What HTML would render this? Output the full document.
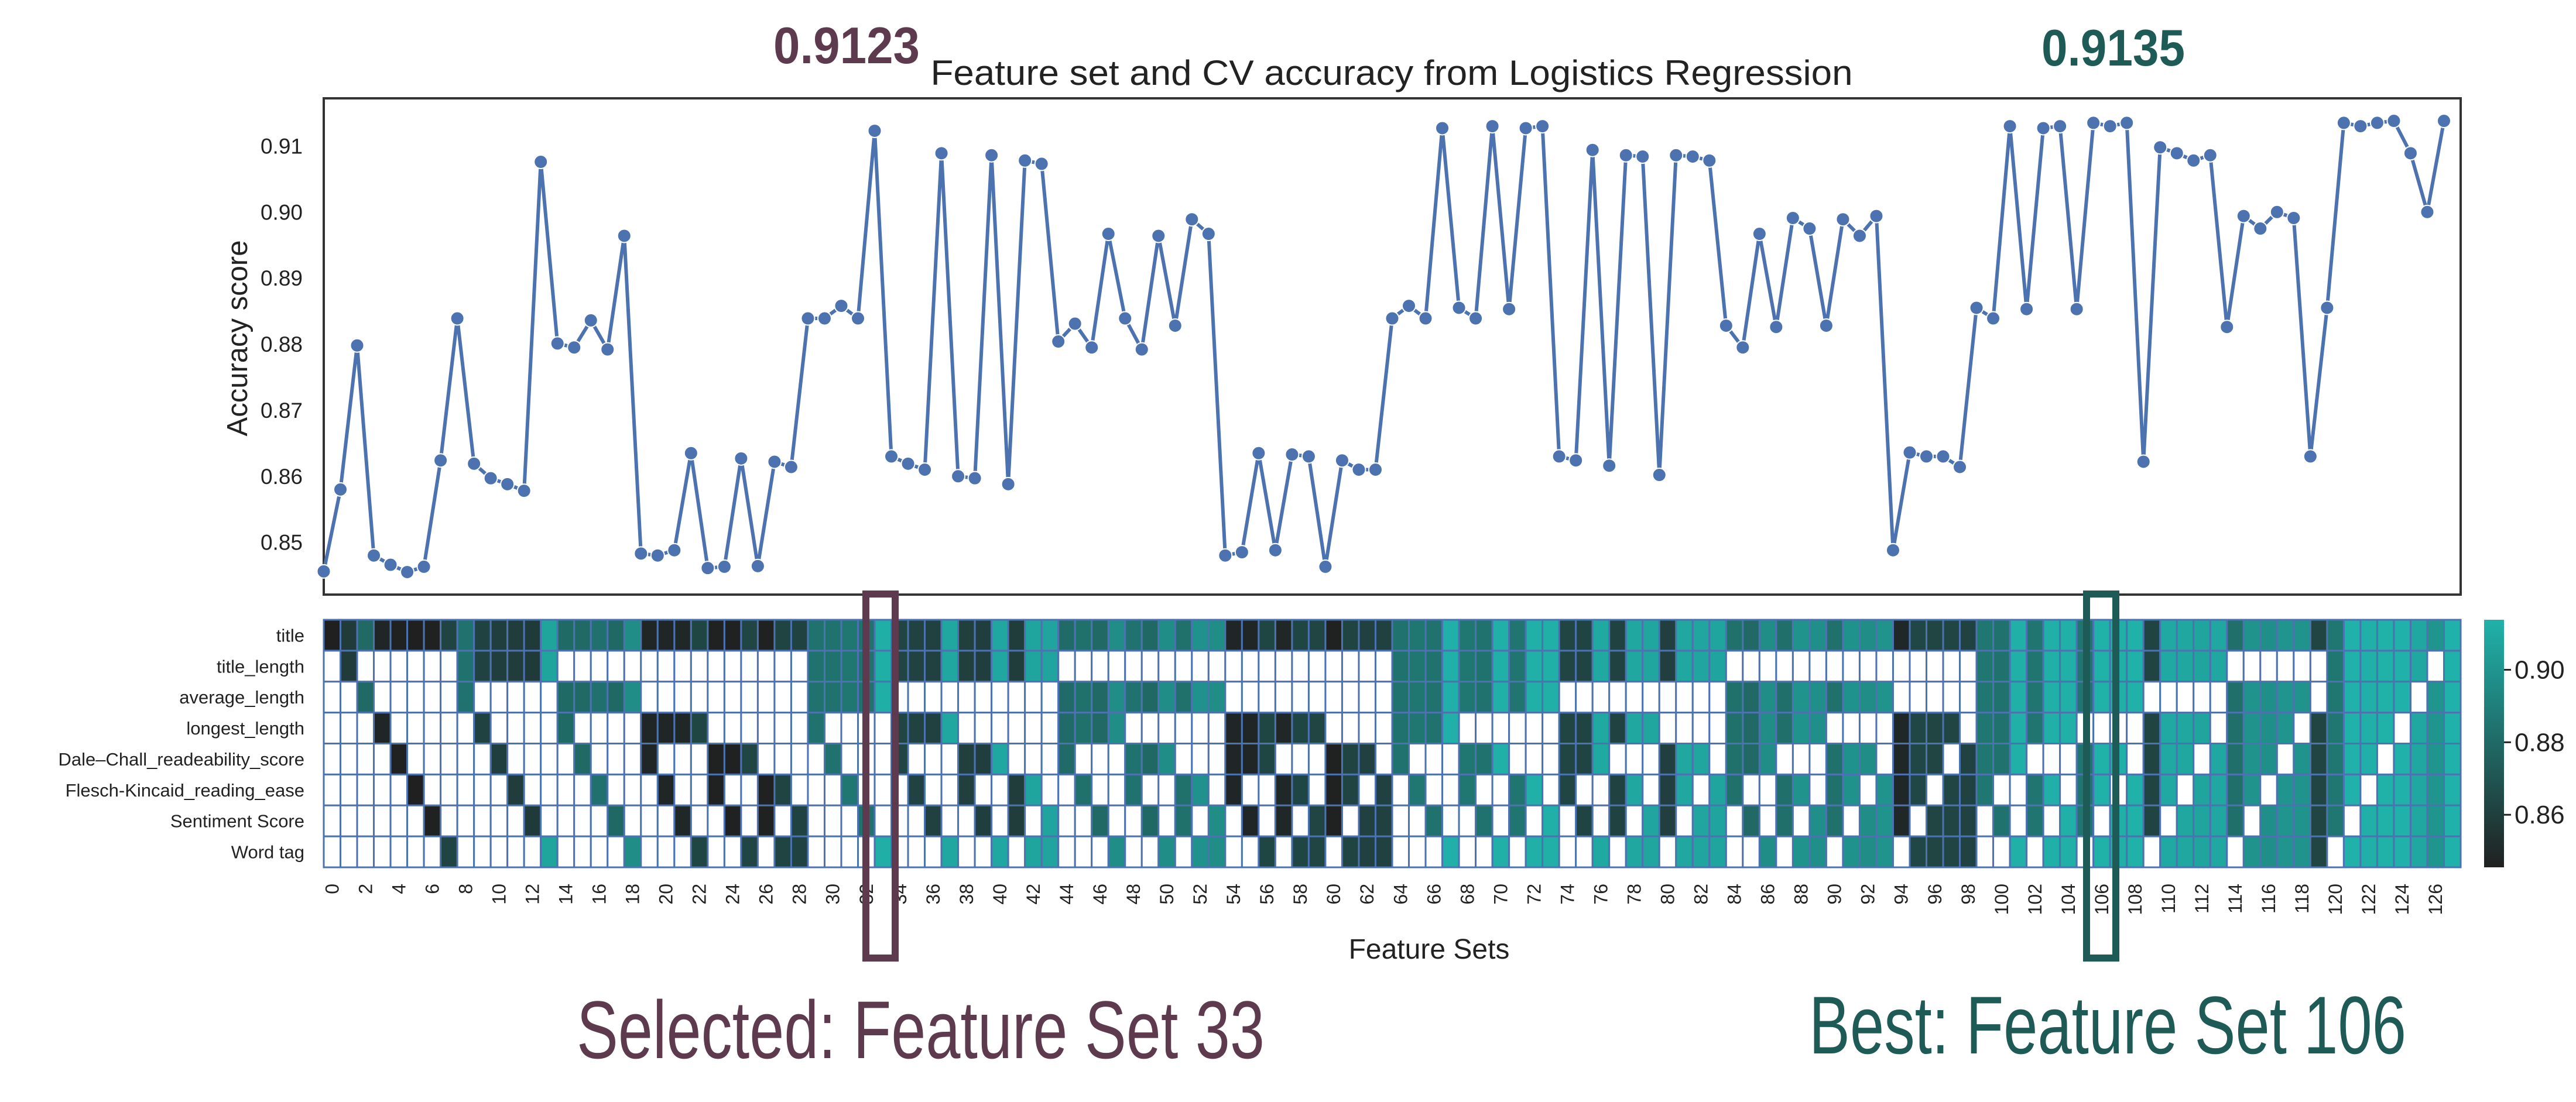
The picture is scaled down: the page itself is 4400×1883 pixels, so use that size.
<!DOCTYPE html>
<html><head><meta charset="utf-8"><style>
html,body{margin:0;padding:0;background:#fff;}
svg{display:block;font-family:"Liberation Sans",Arial,sans-serif;}
</style></head><body>
<svg id="chart" width="4400" height="1883" viewBox="0 0 4400 1883" xmlns="http://www.w3.org/2000/svg">
<defs>
<linearGradient id="cbar" x1="0" y1="1" x2="0" y2="0">
<stop offset="0" stop-color="#202020"/><stop offset="0.5" stop-color="#206965"/><stop offset="1" stop-color="#20b2aa"/>
</linearGradient>
</defs>
<rect x="0" y="0" width="4400" height="1883" fill="#fff"/>
<text x="2377" y="145" font-size="60" fill="#222" text-anchor="middle" textLength="1575" lengthAdjust="spacingAndGlyphs">Feature set and CV accuracy from Logistics Regression</text>
<text x="1321" y="108" font-size="88" font-weight="bold" fill="#5e3a4e" textLength="250" lengthAdjust="spacingAndGlyphs">0.9123</text>
<text x="3487" y="112" font-size="88" font-weight="bold" fill="#1e5b57" textLength="245" lengthAdjust="spacingAndGlyphs">0.9135</text>
<text x="0" y="0" font-size="49" fill="#222" text-anchor="middle" transform="translate(422,578) rotate(-90)">Accuracy score</text>
<text x="2441" y="1638" font-size="48" fill="#222" text-anchor="middle">Feature Sets</text>
<g id="lineG"></g>
<g id="heatG"></g>
<g id="cbarG"></g>
<rect x="1479" y="1015" width="50" height="622" fill="none" stroke="#5e3a4e" stroke-width="12"/>
<rect x="3564" y="1015" width="50" height="622" fill="none" stroke="#1e5b57" stroke-width="12"/>
<text x="985" y="1808" font-size="140" fill="#5e3a4e" textLength="1175" lengthAdjust="spacingAndGlyphs">Selected: Feature Set 33</text>
<text x="3090" y="1800" font-size="140" fill="#1e5b57" textLength="1020" lengthAdjust="spacingAndGlyphs">Best: Feature Set 106</text>
</svg>
<script>
const accuracy = [
0.8456,0.8580,0.8798,0.8480,0.8466,0.8455,0.8463,0.8624,0.8839,0.8619,
0.8597,0.8588,0.8578,0.9076,0.8801,0.8795,0.8836,0.8792,0.8964,0.8483,
0.8480,0.8488,0.8635,0.8461,0.8463,0.8627,0.8464,0.8622,0.8614,0.8839,
0.8839,0.8858,0.8839,0.9123,0.8630,0.8619,0.8610,0.9089,0.8600,0.8597,
0.9086,0.8588,0.9078,0.9073,0.8804,0.8831,0.8795,0.8967,0.8839,0.8792,
0.8964,0.8828,0.8989,0.8967,0.8480,0.8485,0.8635,0.8488,0.8633,0.8630,
0.8463,0.8624,0.8610,0.8610,0.8839,0.8858,0.8839,0.9127,0.8855,0.8839,
0.9130,0.8853,0.9127,0.9130,0.8630,0.8624,0.9094,0.8616,0.9086,0.9084,
0.8602,0.9086,0.9084,0.9078,0.8828,0.8795,0.8967,0.8826,0.8991,0.8975,
0.8828,0.8989,0.8964,0.8994,0.8488,0.8636,0.8630,0.8630,0.8614,0.8855,
0.8839,0.9130,0.8853,0.9127,0.9130,0.8853,0.9135,0.9130,0.9135,0.8622,
0.9098,0.9089,0.9078,0.9086,0.8826,0.8994,0.8975,0.9000,0.8991,0.8630,
0.8855,0.9135,0.9130,0.9135,0.9138,0.9089,0.9000,0.9138];
const featureNames = ["title","title_length","average_length","longest_length","Dale\u2013Chall_readeability_score","Flesch-Kincaid_reading_ease","Sentiment Score","Word tag"];
const yTicks = [0.85,0.86,0.87,0.88,0.89,0.90,0.91];
const yTickLabels = ["0.85","0.86","0.87","0.88","0.89","0.90","0.91"];
const cbarTicks = [0.86,0.88,0.90];
const cbarTickLabels = ["0.86","0.88","0.90"];

const NS="http://www.w3.org/2000/svg";
function mk(tag, parent, attrs){const e=document.createElementNS(NS,tag);for(const k in attrs)e.setAttribute(k,attrs[k]);parent.appendChild(e);return e;}
const X0=553, X1=4203, N=accuracy.length, CW=(X1-X0)/N;
const PT=168, PB=1016;
const dMin=Math.min(...accuracy), dMax=Math.max(...accuracy), pad=(dMax-dMin)*0.05;
const yLo=dMin-pad, yHi=dMax+pad;
function xLine(i){return X0+i*CW;}
function xCenter(i){return X0+(i+0.5)*CW;}
function yScale(v){return PT+(yHi-v)/(yHi-yLo)*(PB-PT);}
const vmin=dMin, vmax=dMax;
function lerp(a,b,t){return Math.round(a+(b-a)*t);}
function cmap(v){
  let t=(v-vmin)/(vmax-vmin); t=Math.max(0,Math.min(1,t));
  const c0=[32,32,32],c1=[32,105,101],c2=[32,178,170];
  let a,b,u; if(t<0.5){a=c0;b=c1;u=t/0.5;}else{a=c1;b=c2;u=(t-0.5)/0.5;}
  return `rgb(${lerp(a[0],b[0],u)},${lerp(a[1],b[1],u)},${lerp(a[2],b[2],u)})`;
}

const lg=document.getElementById('lineG');
const frame=mk('rect',lg,{x:X0,y:PT,width:X1-X0,height:PB-PT,fill:'none',stroke:'#333',"stroke-width":4});


yTicks.forEach((t,k)=>{
  const tx=mk('text',lg,{x:517,y:yScale(t)+13,"font-size":37,fill:'#222',"text-anchor":"end"});
  tx.textContent=yTickLabels[k];
  
  
});
const clipG=mk('g',lg,{});
let d=accuracy.map((v,i)=>(i?'L':'M')+xLine(i).toFixed(1)+','+yScale(v).toFixed(1)).join(' ');
const path=mk('path',clipG,{d:d,fill:'none',stroke:'#4c72b0',"stroke-width":6,"stroke-linejoin":"round"});


accuracy.forEach((v,i)=>{
  const c=mk('circle',clipG,{cx:xLine(i),cy:yScale(v),r:11.5,fill:'#4c72b0',stroke:'#fff',"stroke-width":2});
  
  
});

const hg=document.getElementById('heatG');
const HT=1059, HB=1482, R=featureNames.length, RH=(HB-HT)/R;
const combos=[];
(function(){const n=7;for(let k=0;k<=n;k++){const rec=(start,cur)=>{if(cur.length===k){combos.push(cur.slice());return;}for(let j=start;j<n;j++){cur.push(j);rec(j+1,cur);cur.pop();}};rec(0,[]);}})();
for(let i=0;i<N;i++){
  const set=combos[i]||[];
  for(let r=0;r<R;r++){
    const on = r===0 || set.indexOf(r-1)>=0;
    const cell=mk('rect',hg,{x:X0+i*CW,y:HT+r*RH,width:CW,height:RH,fill:on?cmap(accuracy[i]):'#ffffff',stroke:'#4c72b0',"stroke-width":3});
    
    
  }
  if(i%2===0){
    const tx=mk('text',hg,{x:0,y:0,"font-size":32,fill:'#222',"text-anchor":"end",transform:`translate(${xCenter(i)+11},1510) rotate(-90)`});
    tx.textContent=String(i);
    
    
  }
}
featureNames.forEach((nm,r)=>{
  const tx=mk('text',hg,{x:520,y:HT+(r+0.5)*RH+11,"font-size":31,fill:'#222',"text-anchor":"end"});
  tx.textContent=nm;
  
  
});

const cg=document.getElementById('cbarG');
const CX=4243, CWd=34;
const cb=mk('rect',cg,{x:CX,y:HT,width:CWd,height:HB-HT,fill:'url(#cbar)'});


function cbY(v){return HB-(v-vmin)/(vmax-vmin)*(HB-HT);}
cbarTicks.forEach((t,k)=>{
  const y=cbY(t);
  const ln=mk('line',cg,{x1:CX+CWd,x2:CX+CWd+12,y1:y,y2:y,stroke:'#222',"stroke-width":3});
  
  
  const tx=mk('text',cg,{x:CX+CWd+18,y:y+15,"font-size":44,fill:'#222'});
  tx.textContent=cbarTickLabels[k];
  
  
});
</script>
</body></html>
